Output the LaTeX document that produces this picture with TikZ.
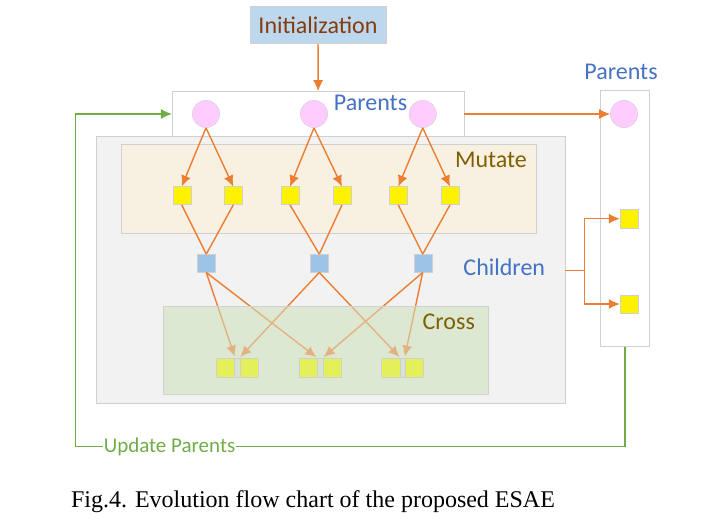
\documentclass[tikz,border=0pt]{standalone}
\usepackage{fontspec}
\setmainfont{Carlito}
\newfontfamily\timesfont{Liberation Serif}
\usetikzlibrary{arrows.meta}
\definecolor{orangeline}{HTML}{ED7D31}
\definecolor{greenline}{HTML}{70AD47}
\definecolor{bluetext}{HTML}{4472C4}
\definecolor{goldtext}{HTML}{7F6000}
\definecolor{inittext}{HTML}{843C0C}
\definecolor{initfill}{HTML}{BDD7EE}
\definecolor{boxgray}{HTML}{D0D0D0}
\definecolor{graybg}{HTML}{F2F2F2}
\definecolor{mutatefill}{HTML}{F8F0E0}
\definecolor{crossfill}{HTML}{DCE8D2}
\definecolor{pinkfill}{HTML}{FFCCFF}
\definecolor{childblue}{HTML}{9DC3E6}
\definecolor{crossyellow}{HTML}{E4F05A}
\definecolor{pairgap}{HTML}{D6E3CD}
\tikzset{
  box/.style={draw=boxgray, line width=0.8pt, inner sep=0pt},
  word/.style={font=\fontsize{24}{28}\selectfont, anchor=base, inner sep=0pt},
  parent/.style={circle, draw=boxgray, fill=pinkfill, minimum size=27.4pt, inner sep=0pt},
  mutant/.style={rectangle, draw=boxgray, fill=yellow, minimum size=18pt, inner sep=0pt},
  child/.style={rectangle, draw=boxgray, fill=childblue, minimum size=18pt, inner sep=0pt},
  pair/.style={rectangle, draw=boxgray, fill=pairgap, minimum width=42.3pt, minimum height=18.4pt, inner sep=0pt},
  offspring/.style={rectangle, draw=boxgray, fill=crossyellow, minimum size=18.4pt, inner sep=0pt},
  arr/.style={orangeline, line width=1.4pt},
  loopline/.style={greenline, line width=1.4pt}
}
\begin{document}
\begin{tikzpicture}[x=1pt,y=-1pt,>={Latex[length=11pt,width=10pt]}]
\useasboundingbox (0,0) rectangle (718,524);
\node[box, fill=initfill, minimum width=136pt, minimum height=37pt, text=inittext, font=\fontsize{24}{28}\selectfont] (init) at (318,25.2) {Initialization};
\node[box, fill=white, minimum width=291.7pt, minimum height=44.8pt] (top) at (318.2,114) {};
\node[box, fill=graybg, minimum width=469pt, minimum height=266.3pt] (gray) at (330.5,269.85) {};
\node[box, fill=mutatefill, minimum width=414.3pt, minimum height=89pt] (mutate) at (328.85,188.8) {};
\node[box, fill=crossfill, minimum width=325pt, minimum height=87.6pt] (cross) at (325.8,350.5) {};
\node[box, fill=white, minimum width=48.3pt, minimum height=256.7pt] (rbox) at (624.85,218.35) {};
\node[word, text=bluetext] (toplabel) at (370.5,110.7) {Parents};
\node[word, text=bluetext] (rlabel) at (621,79.3) {Parents};
\node[word, text=goldtext] (mutlabel) at (491,167.3) {Mutate};
\node[word, text=bluetext] (chlabel) at (504.3,275) {Children};
\foreach \i/\x in {1/206,2/314,3/422.7}
  \node[parent] (c\i) at (\x,114) {};
\node[parent] (rc) at (624,114) {};
\foreach \i/\x in {1/181.7,2/233.3,3/290,4/342,5/398.3,6/450}
  \node[mutant] (y\i) at (\x,195.7) {};
\foreach \i/\x in {1/206.3,2/319.3,3/422.7}
  \node[child] (b\i) at (\x,263.3) {};
\node[mutant] (ry1) at (629,218.7) {};
\node[mutant] (ry2) at (629,304) {};
\foreach \i/\x in {1/237.2,2/320,3/402.5}
  \node[pair] (p\i) at (\x,367.5) {};
\draw[arr,->] (init) -- (top);
\draw[arr,->] (top.east) -- (rc);
\foreach \c/\a/\b in {1/1/2,2/3/4,3/5/6} {
  \draw[arr,->] (c\c.south) -- (y\a.north);
  \draw[arr,->] (c\c.south) -- (y\b.north);
  \draw[arr] (y\a.south) -- (b\c.north);
  \draw[arr] (y\b.south) -- (b\c.north);
}
\draw[arr,->,shorten >=1.5pt] (b1.south) -- ([xshift=-2pt]p1.north);
\draw[arr,->,shorten >=1.5pt] (b2.south) -- ([xshift=2pt]p1.north);
\draw[arr,->,shorten >=1.5pt] (b1.south) -- ([xshift=-2.5pt]p2.north);
\draw[arr,->,shorten >=1.5pt] (b3.south) -- ([xshift=2.5pt]p2.north);
\draw[arr,->,shorten >=1.5pt] (b2.south) -- ([xshift=-2pt]p3.north);
\draw[arr,->,shorten >=1.5pt] (b3.south) -- ([xshift=2pt]p3.north);
\fill[crossfill, fill opacity=0.5] (cross.south west) rectangle (cross.north east);
\draw[boxgray, line width=0.8pt] (cross.south west) rectangle (cross.north east);
\node[word, text=goldtext] (crosslabel) at (448.8,329.3) {Cross};
\foreach \i in {1,2,3} {
  \node[pair] at (p\i) {};
  \node[offspring, anchor=west] (p\i l) at (p\i.west) {};
  \node[offspring, anchor=east] (p\i r) at (p\i.east) {};
}
\coordinate (split) at (584.3,270.3);
\draw[arr,->] (gray.east |- split) -- (split) |- (ry1.west);
\draw[arr,->] (split) |- (ry2.west);
\node[font=\fontsize{21}{25}\selectfont, text=greenline, inner sep=1pt] (upd) at (169.5,446.7) {Update Parents};
\draw[loopline] (rbox.south) |- (upd.east);
\draw[loopline,->] (upd.west) -| (75.7,114) -- (top.west);
\node[font=\timesfont\fontsize{24}{28}\selectfont, anchor=base, inner sep=0pt] (caption) at (313,507.3) {Fig.4. Evolution flow chart of the proposed ESAE};
\end{tikzpicture}
\end{document}
